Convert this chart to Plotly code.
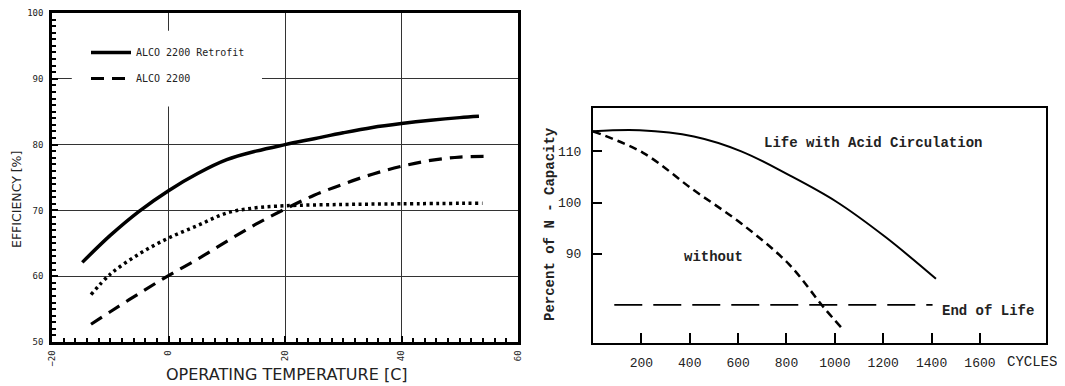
import plotly.graph_objects as go

# ---------------- Left chart data: efficiency vs operating temperature ----------------
temp_retrofit = [-14.8, -10, -5, 0, 5, 10, 15, 20, 25, 30, 35, 40, 45, 50, 53.3]
eff_retrofit = [62.1, 66.2, 69.9, 73.0, 75.6, 77.7, 79.0, 80.0, 80.9, 81.8, 82.6, 83.2, 83.7, 84.1, 84.3]

temp_alco = [-13.3, -10, -5, 0, 5, 10, 15, 20, 25, 30, 35, 40, 45, 50, 54.5]
eff_alco = [52.7, 54.6, 57.4, 60.1, 62.6, 65.3, 67.9, 70.2, 72.3, 74.0, 75.5, 76.7, 77.6, 78.1, 78.2]

temp_dotted = [-13.3, -10, -5, 0, 5, 10, 15, 20, 30, 40, 53.9]
eff_dotted = [57.2, 60.3, 63.4, 65.8, 67.7, 69.6, 70.4, 70.7, 70.9, 71.0, 71.1]

left_x_ticks = [-20, 0, 20, 40, 60]
left_y_ticks = [50, 60, 70, 80, 90, 100]

# ---------------- Right chart data: capacity vs cycles ----------------
cycles_acid = [0, 193, 417, 613, 809, 1005, 1208, 1418]
cap_acid = [113.9, 114.1, 112.9, 110.0, 105.4, 100.2, 93.3, 85.1]

cycles_without = [0, 207, 414, 613, 809, 949, 1026]
cap_without = [113.9, 109.7, 102.5, 95.9, 88.0, 79.8, 75.6]

cycles_eol = [88, 1404]
cap_eol = [80, 80]

right_x_ticks = [200, 400, 600, 800, 1000, 1200, 1400, 1600]
right_y_ticks = [90, 100, 110]

# The page body has an 8px margin: the figure starts at (8, 8) of the page.
OFF = 8
W, H = 1057, 378
def px_x(p):
    return (p - OFF) / W
def px_y(p):
    return 1 - (p - OFF) / H

fig = go.Figure()

# Left traces
fig.add_trace(go.Scatter(x=temp_retrofit, y=eff_retrofit, mode="lines", name="ALCO 2200 Retrofit",
                         line=dict(color="black", width=3.5, shape="spline", smoothing=1),
                         xaxis="x", yaxis="y", legendgroup="a"))
fig.add_trace(go.Scatter(x=temp_alco, y=eff_alco, mode="lines", name="ALCO 2200",
                         line=dict(color="black", width=3.2, dash="13px,8px", shape="spline", smoothing=1),
                         xaxis="x", yaxis="y", legendgroup="b"))
fig.add_trace(go.Scatter(x=temp_dotted, y=eff_dotted, mode="lines", name="dotted",
                         line=dict(color="black", width=3.5, dash="3px,3.5px", shape="spline", smoothing=1),
                         xaxis="x", yaxis="y", showlegend=False))

# Right traces
fig.add_trace(go.Scatter(x=cycles_acid, y=cap_acid, mode="lines", name="Life with Acid Circulation",
                         line=dict(color="black", width=2, shape="spline", smoothing=1),
                         xaxis="x2", yaxis="y2", showlegend=False))
fig.add_trace(go.Scatter(x=cycles_without, y=cap_without, mode="lines", name="without",
                         line=dict(color="black", width=2.5, dash="8px,5px", shape="spline", smoothing=1),
                         xaxis="x2", yaxis="y2", showlegend=False))
fig.add_trace(go.Scatter(x=cycles_eol, y=cap_eol, mode="lines", name="End of Life",
                         line=dict(color="black", width=1.6, dash="28px,11px"),
                         xaxis="x2", yaxis="y2", showlegend=False))

left_font = dict(family="DejaVu Sans Mono", size=9, color="#222")
right_font = dict(family="Liberation Mono", size=13, color="#222")

fig.update_layout(
    width=W, height=H,
    margin=dict(l=0, r=0, t=0, b=0, pad=0, autoexpand=False),
    paper_bgcolor="white", plot_bgcolor="white",
    showlegend=True,
    legend=dict(x=px_x(86), y=px_y(38), xanchor="left", yanchor="top",
                bgcolor="rgba(255,255,255,0)", borderwidth=0,
                font=dict(family="DejaVu Sans Mono", size=10, color="#222"),
                traceorder="grouped", tracegroupgap=7, itemwidth=40),
    xaxis=dict(domain=[px_x(52), px_x(518)], range=[-20, 60], tickvals=left_x_ticks,
               ticks="inside", ticklen=6, tickwidth=1.5, tickcolor="black",
               tickangle=-90, tickfont=left_font, ticklabelstandoff=2,
               showgrid=True, gridcolor="#333", gridwidth=1.3,
               showline=True, linecolor="black", linewidth=2.5, mirror=True,
               minor=dict(dtick=2, ticks="inside", ticklen=4, tickcolor="black", showgrid=False),
               zeroline=False, anchor="y"),
    yaxis=dict(domain=[px_y(342), px_y(13)], range=[50, 100], tickvals=left_y_ticks,
               ticks="inside", ticklen=6, tickwidth=1.5, tickcolor="black",
               tickfont=left_font, ticklabelstandoff=4, ticklabeloverflow="allow",
               showgrid=True, gridcolor="#333", gridwidth=1.3,
               showline=True, linecolor="black", linewidth=2.5, mirror=True,
               minor=dict(dtick=1, ticks="inside", ticklen=4, tickcolor="black", showgrid=False),
               zeroline=False, anchor="x"),
    xaxis2=dict(domain=[px_x(593), px_x(1046)], range=[0, 1873], tickvals=right_x_ticks,
                ticks="inside", ticklen=10, tickwidth=1.5, tickcolor="black",
                tickfont=right_font, ticklabelstandoff=6,
                showgrid=False, showline=True, linecolor="black", linewidth=2, mirror=True,
                zeroline=False, anchor="y2"),
    yaxis2=dict(domain=[px_y(343), px_y(108)], range=[72.56, 118.46], tickvals=right_y_ticks,
                ticks="inside", ticklen=9, tickwidth=1.5, tickcolor="black",
                tickfont=right_font, ticklabelstandoff=7,
                showgrid=False, showline=True, linecolor="black", linewidth=2, mirror=True,
                zeroline=False, anchor="x2"),
)

# White patch behind the legend, where the gridlines are interrupted
fig.add_shape(type="rect", xref="x", yref="y", x0=-16.6, x1=16.05, y0=85.8, y1=97.3,
              fillcolor="white", line=dict(width=0), layer="between")

def note(text, x, y, size, family, xref="paper", yref="paper", angle=0):
    fig.add_annotation(text=text, xref=xref, yref=yref, x=x, y=y, textangle=angle,
                       xanchor="center", yanchor="middle", showarrow=False,
                       font=dict(family=family, size=size, color="#222"))

# Axis titles
note("EFFICIENCY [%]", px_x(16), px_y(200), 12.5, "DejaVu Sans", angle=-90)
note("OPERATING TEMPERATURE [C]", px_x(287), px_y(374), 16, "DejaVu Sans")
note("<b>Percent of N - Capacity</b>", px_x(550), px_y(224), 14, "Liberation Mono", angle=-90)
note("CYCLES", px_x(1032), px_y(362), 14, "Liberation Mono")

# In-plot labels on right chart
note("<b>Life with Acid Circulation</b>", 1159, 111.6, 14, "Liberation Mono", "x2", "y2")
note("<b>without</b>", 498, 89.4, 14, "Liberation Mono", "x2", "y2")
note("<b>End of Life</b>", 1634, 78.8, 14, "Liberation Mono", "x2", "y2")

fig.write_html("out.html")
